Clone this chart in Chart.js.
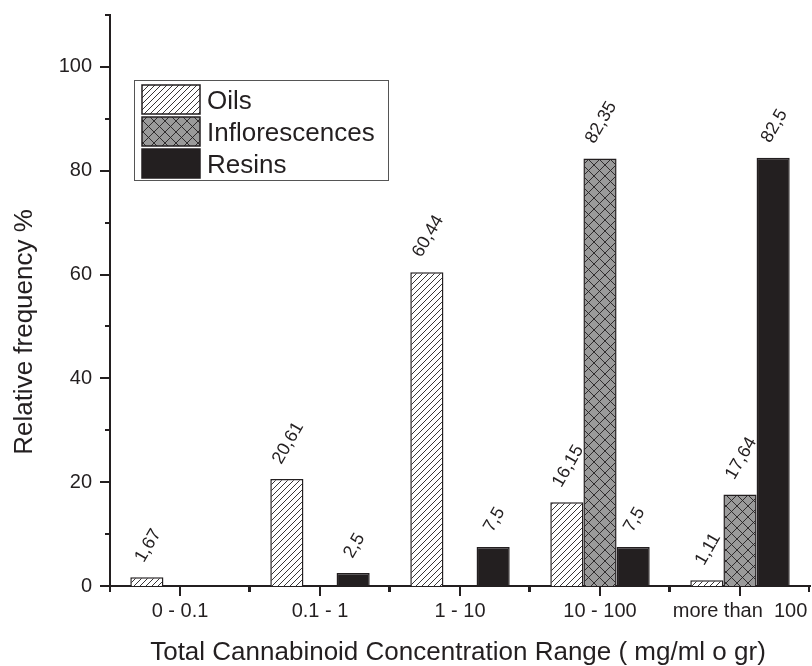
<!DOCTYPE html>
<html>
<head>
<meta charset="utf-8">
<script src="https://cdn.jsdelivr.net/npm/chart.js@4/dist/chart.umd.min.js"></script>
<style>
  body { margin: 0; background: #fff; }
  #wrap { width: 812px; height: 666px; }
</style>
</head>
<body>
<div id="wrap"><canvas id="cv" width="812" height="666"></canvas></div>
<script>
var categories = ["0 - 0.1", "0.1 - 1", "1 - 10", "10 - 100", "more than  100"];
var seriesNames = ["Oils", "Inflorescences", "Resins"];
var oils = [1.67, 20.61, 60.44, 16.15, 1.11];
var inflorescences = [null, null, null, 82.35, 17.64];
var resins = [null, 2.5, 7.5, 7.5, 82.5];
var yTicks = [0, 20, 40, 60, 80, 100];
var yMax = 110;

var ink = "#231f20";
var fontName = "'Liberation Sans', Arial, sans-serif";

function makeHatch(bg, cross, size) {
  var c = document.createElement("canvas");
  c.width = size; c.height = size;
  var g = c.getContext("2d");
  g.fillStyle = bg;
  g.fillRect(0, 0, size, size);
  g.strokeStyle = ink;
  g.lineWidth = 0.9;
  g.beginPath();
  g.moveTo(-1, size + 1); g.lineTo(size + 1, -1);
  g.moveTo(-1, 1); g.lineTo(1, -1);
  g.moveTo(size - 1, size + 1); g.lineTo(size + 1, size - 1);
  if (cross) {
    g.moveTo(-1, -1); g.lineTo(size + 1, size + 1);
    g.moveTo(size - 1, -1); g.lineTo(size + 1, 1);
    g.moveTo(-1, size - 1); g.lineTo(1, size + 1);
  }
  g.stroke();
  return g.createPattern(c, "repeat");
}

var cx = document.getElementById("cv").getContext("2d");
var fills = [makeHatch("#ffffff", false, 6), makeHatch("#9a9a9a", true, 11), ink];

// ticks, value labels, legend and titles drawn on top of the chart
var extras = {
  id: "extras",
  afterDraw: function(chart) {
    var ctx = chart.ctx;
    var xs = chart.scales.x, ys = chart.scales.y;
    var area = chart.chartArea;
    ctx.save();
    ctx.strokeStyle = ink;
    ctx.fillStyle = ink;
    ctx.lineWidth = 2;

    // y ticks, major every 20, minor every 10
    for (var v = 0; v <= yMax; v += 10) {
      var py = Math.round(ys.getPixelForValue(v));
      var len = (v % 20 === 0) ? 10 : 5;
      ctx.beginPath();
      ctx.moveTo(area.left - len, py);
      ctx.lineTo(area.left, py);
      ctx.stroke();
    }
    // x ticks, major at centres, minor at boundaries
    var half = (xs.getPixelForValue(1) - xs.getPixelForValue(0)) / 2;
    for (var i = 0; i < categories.length; i++) {
      var px = Math.round(xs.getPixelForValue(i));
      ctx.beginPath();
      ctx.moveTo(px, area.bottom);
      ctx.lineTo(px, area.bottom + 10);
      ctx.moveTo(Math.round(px - half), area.bottom);
      ctx.lineTo(Math.round(px - half), area.bottom + 6);
      ctx.moveTo(Math.round(px + half) - 1, area.bottom);
      ctx.lineTo(Math.round(px + half) - 1, area.bottom + 6);
      ctx.stroke();
    }

    // rotated value labels
    var ang = 60 * Math.PI / 180;
    ctx.font = "18px " + fontName;
    var capH = 18 * 0.716;
    chart.data.datasets.forEach(function(ds, di) {
      var meta = chart.getDatasetMeta(di);
      meta.data.forEach(function(bar, j) {
        var val = ds.data[j];
        if (val === null) return;
        var txt = String(val).replace(".", ",");
        var w = ctx.measureText(txt).width;
        var halfV = (w * Math.sin(ang) + capH * Math.cos(ang)) / 2;
        ctx.save();
        ctx.translate(bar.x, bar.y - 14 - halfV);
        ctx.rotate(-ang);
        ctx.textAlign = "center";
        ctx.textBaseline = "alphabetic";
        ctx.fillText(txt, 0, capH / 2);
        ctx.restore();
      });
    });

    // legend box
    ctx.lineWidth = 1;
    ctx.strokeStyle = "#555";
    ctx.strokeRect(134.5, 80.5, 254, 100);
    ctx.font = "26px " + fontName;
    ctx.textAlign = "left";
    ctx.textBaseline = "alphabetic";
    for (var k = 0; k < seriesNames.length; k++) {
      var top = 85 + k * 32;
      ctx.fillStyle = fills[k];
      ctx.fillRect(142, top, 58, 29);
      ctx.strokeStyle = ink;
      ctx.lineWidth = 1.5;
      ctx.strokeRect(142, top, 58, 29);
      ctx.fillStyle = ink;
      ctx.fillText(seriesNames[k], 207, top + 14.5 + 9.3);
    }

    // axis titles
    ctx.font = "26px " + fontName;
    ctx.textAlign = "center";
    ctx.fillText("Total Cannabinoid Concentration Range ( mg/ml o gr)", (area.left + area.right) / 2 - 2, 660);
    ctx.save();
    ctx.translate(32, 332);
    ctx.rotate(-Math.PI / 2);
    ctx.fillText("Relative frequency %", 0, 0);
    ctx.restore();

    ctx.restore();
  }
};

var myChart = new Chart(cx, {
  type: "bar",
  data: {
    labels: categories,
    datasets: [
      { label: seriesNames[0], data: oils, backgroundColor: fills[0], borderColor: ink, borderWidth: 1.5 },
      { label: seriesNames[1], data: inflorescences, backgroundColor: fills[1], borderColor: ink, borderWidth: 1.5 },
      { label: seriesNames[2], data: resins, backgroundColor: fills[2], borderColor: ink, borderWidth: 1.5 }
    ]
  },
  options: {
    responsive: false,
    animation: false,
    layout: { padding: { top: 15, right: 2, left: 0, bottom: 0 } },
    datasets: { bar: { categoryPercentage: 0.71, barPercentage: 1 } },
    plugins: { legend: { display: false }, tooltip: { enabled: false } },
    scales: {
      x: {
        grid: { display: false, drawTicks: false },
        border: { display: true, color: ink, width: 2 },
        ticks: { color: ink, font: { family: fontName, size: 20 }, padding: 13, maxRotation: 0, autoSkip: false },
        afterFit: function(scale) {
          scale.height = 80;
          scale.paddingLeft = 0;
          scale.paddingRight = 0;
        }
      },
      y: {
        min: 0,
        max: yMax,
        grid: { display: false, drawTicks: false },
        border: { display: true, color: ink, width: 2 },
        ticks: { color: ink, font: { family: fontName, size: 20 }, padding: 18 },
        afterBuildTicks: function(scale) {
          scale.ticks = yTicks.map(function(v) { return { value: v }; });
        },
        afterFit: function(scale) {
          scale.width = 110;
          scale.paddingTop = 0;
          scale.paddingBottom = 0;
        }
      }
    }
  },
  plugins: [extras]
});
</script>
</body>
</html>
